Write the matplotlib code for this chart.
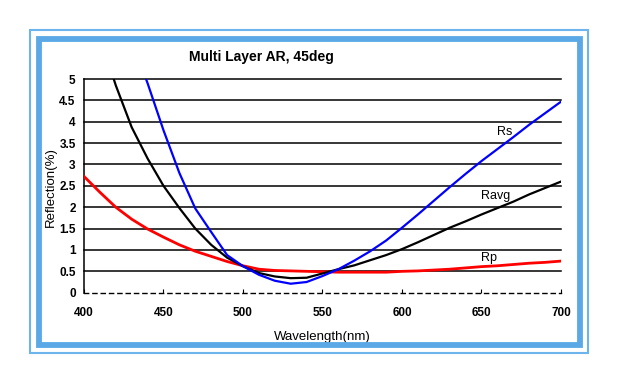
import matplotlib.pyplot as plt
from matplotlib.patches import Rectangle

# wavelength grid (nm) and reflection curves (%)
wavelength = [400, 410, 420, 430, 440, 450, 460, 470, 480, 490,
              500, 510, 520, 530, 540, 550, 560, 570, 580, 590,
              600, 610, 620, 630, 640, 650, 660, 670, 680, 690, 700]
rs = [9.5, 8.2, 7.0, 5.9, 4.9, 3.8, 2.8, 1.97, 1.42, 0.88,
      0.62, 0.42, 0.28, 0.21, 0.25, 0.39, 0.55, 0.75, 0.97, 1.22,
      1.52, 1.83, 2.15, 2.47, 2.78, 3.08, 3.36, 3.64, 3.93, 4.2, 4.47]
ravg = [7.3, 6.0, 4.85, 3.87, 3.14, 2.5, 1.98, 1.5, 1.12, 0.82,
        0.62, 0.46, 0.38, 0.34, 0.35, 0.45, 0.55, 0.64, 0.76, 0.88,
        1.02, 1.18, 1.35, 1.52, 1.67, 1.83, 1.98, 2.13, 2.3, 2.45, 2.6]
rp = [2.72, 2.35, 2.0, 1.72, 1.49, 1.3, 1.12, 0.97, 0.85, 0.73,
      0.63, 0.55, 0.52, 0.51, 0.5, 0.49, 0.48, 0.48, 0.48, 0.48,
      0.5, 0.51, 0.53, 0.55, 0.58, 0.61, 0.63, 0.66, 0.69, 0.71, 0.74]

xticks = [400, 450, 500, 550, 600, 650, 700]
yticks = [0, 0.5, 1, 1.5, 2, 2.5, 3, 3.5, 4, 4.5, 5]
ytick_labels = ['0', '0.5', '1', '1.5', '2', '2.5', '3', '3.5', '4', '4.5', '5']

plt.rcParams['font.family'] = ['Liberation Sans', 'DejaVu Sans']

W, H = 618, 384
fig = plt.figure(figsize=(W / 100, H / 100), dpi=100)

# blue double frame (pixel coords converted to figure fractions)
frame_blue = '#5aa9e6'
fig.patches.append(Rectangle((30 / W, 31 / H), 558 / W, 323 / H, fill=False,
                             edgecolor='#6db4ec', lw=1.5, transform=fig.transFigure))
fig.patches.append(Rectangle((39 / W, 39.5 / H), 540.5 / W, 306 / H, fill=False,
                             edgecolor=frame_blue, lw=4.2, transform=fig.transFigure))

ax = fig.add_axes([84 / W, (H - 292.7) / H, 477 / W, 213.7 / H])

ax.plot(wavelength, rp, color='#ff0000', lw=2.0, zorder=3)
ax.plot(wavelength, ravg, color='black', lw=1.6, zorder=4)
ax.plot(wavelength, rs, color='#0000ff', lw=1.6, zorder=5)

ax.set_xlim(400, 700)
ax.set_ylim(0, 5)
ax.set_xticks(xticks)
ax.set_yticks(yticks)
ax.set_yticklabels(ytick_labels)

for y in yticks[1:]:
    ax.axhline(y, color='black', lw=1.1, zorder=1, clip_on=False)

for side in ['top', 'right']:
    ax.spines[side].set_visible(False)
ax.spines['left'].set_linewidth(1.1)
ax.spines['bottom'].set_linestyle((0, (3, 3)))
ax.spines['bottom'].set_linewidth(1.0)

ax.tick_params(axis='y', length=0, pad=6, labelsize=8.5)
ax.tick_params(axis='x', direction='in', length=3, pad=10, labelsize=8.5)
for lab in ax.get_xticklabels() + ax.get_yticklabels():
    lab.set_fontweight('bold')

ax.set_xlabel('Wavelength(nm)', fontsize=9.5, labelpad=9)
fig.text(51 / W, (H - 187) / H, 'Reflection(%)', fontsize=9.5, rotation=90,
         ha='center', va='center')

ax.text(659.7, 3.76, 'Rs', fontsize=9, va='center', ha='left')
ax.text(649.7, 2.26, 'Ravg', fontsize=9, va='center', ha='left')
ax.text(649.7, 0.81, 'Rp', fontsize=9, va='center', ha='left')

fig.text(261 / W, (H - 57) / H, 'Multi Layer AR, 45deg', fontsize=10,
         fontweight='bold', ha='center', va='center')

fig.savefig('out.png', dpi=100)
